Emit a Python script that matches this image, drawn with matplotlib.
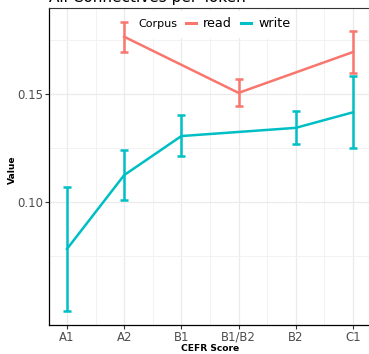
import numpy as np
import matplotlib.pyplot as plt
from matplotlib.lines import Line2D

# CEFR levels on the x axis
levels = ["A1", "A2", "B1", "B1/B2", "B2", "C1"]

# write corpus: mean and error bar limits
write_levels = ["A1", "A2", "B1", "B2", "C1"]
write_mean = [0.0784, 0.1126, 0.1307, 0.1345, 0.1417]
write_low = [0.0497, 0.1011, 0.1214, 0.1269, 0.1250]
write_high = [0.1072, 0.1242, 0.1404, 0.1423, 0.1586]

# read corpus: mean and error bar limits
read_levels = ["A2", "B1/B2", "C1"]
read_mean = [0.1767, 0.1507, 0.1696]
read_low = [0.1696, 0.1446, 0.1599]
read_high = [0.1835, 0.1571, 0.1793]

colors = {"read": "#F8766D", "write": "#00BFC4"}

fig = plt.figure(figsize=(3.69, 3.54), dpi=100)
ax = fig.add_axes([0.134, 0.0819, 0.870, 0.8955])

pos = {lv: i for i, lv in enumerate(levels)}


def draw(series_levels, mean, low, high, color):
    x = np.array([pos[lv] for lv in series_levels])
    mean = np.array(mean)
    yerr = [mean - np.array(low), np.array(high) - mean]
    ax.errorbar(x, mean, yerr=yerr, color=color, lw=1.8, capsize=2.8,
                capthick=1.8, elinewidth=1.8, zorder=3)
    return Line2D([0], [0], color=color, lw=2.2)


h_read = draw(read_levels, read_mean, read_low, read_high, colors["read"])
h_write = draw(write_levels, write_mean, write_low, write_high, colors["write"])

ax.set_xlim(-0.306, 5.306)
ax.set_ylim(0.0432, 0.19)
ax.set_xticks(range(len(levels)))
ax.set_xticklabels(levels)
ax.set_xticks(np.arange(0.5, 5.5, 1), minor=True)
ax.set_yticks([0.10, 0.15])
ax.set_yticklabels(["0.10", "0.15"])
ax.set_yticks([0.075, 0.125, 0.175], minor=True)

ax.grid(True, which="major", color="#ebebeb", lw=0.9)
ax.grid(True, which="minor", color="#f2f2f2", lw=0.7)
ax.set_axisbelow(True)

ax.tick_params(which="major", length=3, width=0.8, color="#333333",
               labelcolor="#4d4d4d", labelsize=8.4, pad=1.2)
ax.tick_params(which="minor", length=0)
for side in ["left", "bottom"]:
    ax.spines[side].set_color("black")
    ax.spines[side].set_linewidth(0.9)
ax.spines["top"].set_color("#333333")
ax.spines["top"].set_linewidth(0.8)
ax.spines["right"].set_visible(False)

ax.set_xlabel("CEFR Score", fontsize=6.6, fontweight="bold")
ax.xaxis.set_label_coords(0.5, -0.0726)
ax.xaxis.label.set_va("center")
ax.set_ylabel("Value", fontsize=6.6, fontweight="bold")
ax.yaxis.set_label_coords(-0.115, 0.49)
ax.yaxis.label.set_va("center")

fig.text(0.134, 0.9945, "All Connectives per Token", fontsize=11,
         va="baseline", ha="left", color="black")

# legend: white box across the top, title on the left
ax.add_patch(plt.Rectangle((0.27, 0.905), 0.48, 0.085, transform=ax.transAxes,
                           facecolor="white", edgecolor="none", zorder=4))
ax.text(0.398, 0.95, "Corpus", transform=ax.transAxes, fontsize=8,
        ha="right", va="center", zorder=6)
leg = ax.legend([h_read, h_write], ["read", "write"], ncol=2,
                loc="center", bbox_to_anchor=(0.588, 0.95),
                frameon=True, facecolor="white", edgecolor="none",
                fancybox=False, framealpha=1, fontsize=9.2,
                handlelength=0.8, handletextpad=0.55, columnspacing=0.7,
                borderpad=0.2)
leg.set_zorder(5)

fig.savefig("out.png", dpi=100)
